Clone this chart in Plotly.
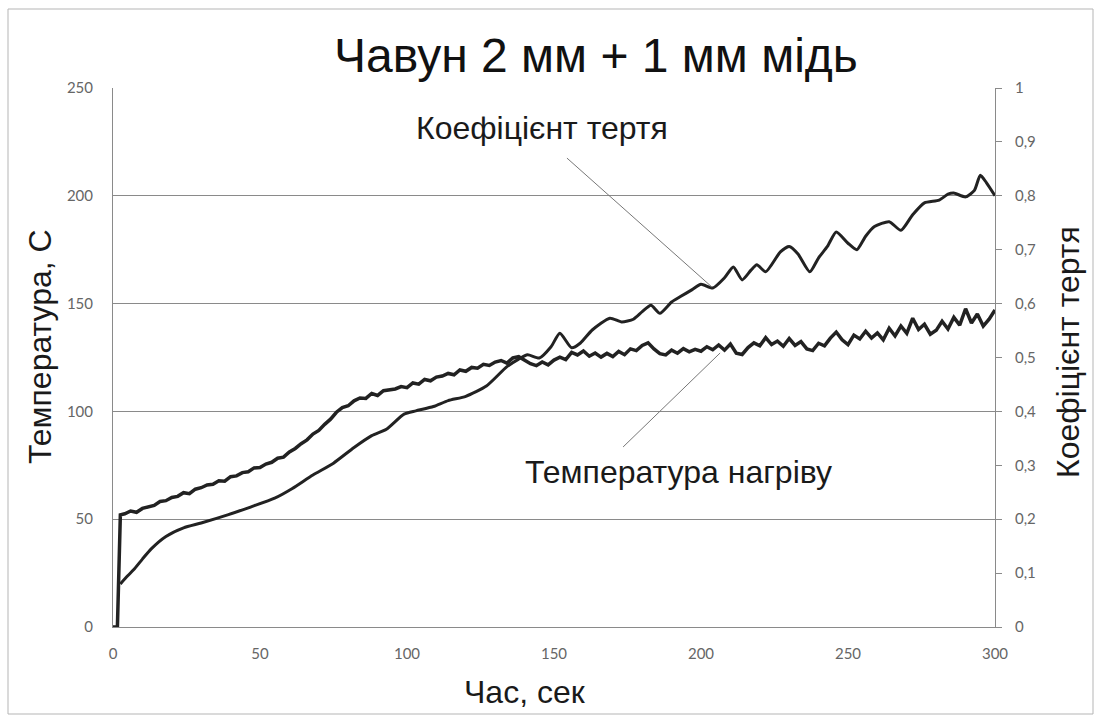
import plotly.graph_objects as go

# Heating temperature, °C (left axis), sampled every 2 s after the start-up jump
temp_time = [0, 1.5, 2.5] + list(range(4, 301, 2))
temperature = [
    0, 0, 52.0,
    52.5, 53.8, 53.2, 55.0, 55.9, 56.4, 58.2, 58.6, 60.1, 60.6,
    62.3, 61.8, 63.9, 64.6, 65.9, 66.2, 67.8, 67.6, 69.7, 70.1,
    71.6, 72.0, 73.8, 74.0, 75.6, 76.4, 78.3, 78.8, 81.2, 82.8,
    85.0, 86.8, 89.5, 91.2, 94.0, 96.4, 99.6, 101.8, 102.6, 104.9,
    106.2, 106.0, 108.3, 107.4, 109.6, 109.8, 110.4, 111.5, 111.0, 113.2,
    112.6, 114.8, 114.2, 115.9, 116.4, 117.6, 117.0, 119.2, 118.6, 120.4,
    120.0, 121.8, 121.3, 122.9, 123.6, 122.4, 124.8, 125.4, 123.8, 122.1,
    121.2, 122.9, 121.6, 123.8, 125.2, 124.0, 127.4, 126.2, 128.0, 125.6,
    127.1, 125.2, 126.9, 125.4, 127.8, 126.3, 129.0, 128.2, 130.6, 131.8,
    129.0, 126.8, 126.2, 128.4, 127.0, 129.1, 127.6, 128.8, 127.9, 130.0,
    128.6, 130.8, 128.4, 131.2, 127.0, 126.4, 129.6, 131.8, 130.4, 134.2,
    131.0, 132.6, 130.2, 133.8, 130.6, 132.4, 129.0, 128.2, 131.6, 130.4,
    134.0, 136.8, 133.2, 131.0, 135.4, 133.6, 137.2, 134.0, 136.4, 133.2,
    138.6, 135.0, 139.6, 136.2, 143.2, 138.0, 140.4, 135.8, 137.6, 141.8,
    138.2, 143.6, 140.0, 147.6, 141.0, 145.2, 139.6, 142.8, 147.0,
]

# Friction coefficient (right axis)
friction_time = [
    2.5, 5, 7, 10, 13, 18, 24, 30, 39, 47, 55, 61, 68, 75, 82, 88, 93, 99,
    103, 109, 114, 120, 127, 134, 138, 141, 145, 149, 152, 156, 159, 163,
    169, 173, 177, 180, 183, 186, 190, 193, 197, 200, 204, 208, 211, 214,
    217, 219, 222, 227, 230, 233, 237, 240, 243, 246, 250, 253, 256, 259,
    264, 268, 272, 276, 281, 284, 286, 290, 293, 295, 297, 300,
]
friction = [
    0.080, 0.095, 0.106, 0.126, 0.145, 0.168, 0.184, 0.193, 0.208, 0.223,
    0.239, 0.257, 0.282, 0.304, 0.333, 0.355, 0.367, 0.395, 0.401, 0.409,
    0.420, 0.428, 0.447, 0.483, 0.497, 0.505, 0.499, 0.520, 0.545, 0.518,
    0.527, 0.551, 0.573, 0.566, 0.571, 0.585, 0.597, 0.582, 0.603, 0.613,
    0.626, 0.636, 0.629, 0.648, 0.668, 0.644, 0.662, 0.672, 0.659, 0.696,
    0.706, 0.692, 0.659, 0.685, 0.706, 0.733, 0.712, 0.700, 0.725, 0.743,
    0.752, 0.736, 0.765, 0.787, 0.792, 0.803, 0.805, 0.798, 0.810, 0.838,
    0.825, 0.800,
]

x_ticks = [0, 50, 100, 150, 200, 250, 300]
temp_ticks = [0, 50, 100, 150, 200, 250]
fric_ticks = [0, 0.1, 0.2, 0.3, 0.4, 0.5, 0.6, 0.7, 0.8, 0.9, 1]
fric_tick_text = ["0", "0,1", "0,2", "0,3", "0,4", "0,5", "0,6", "0,7", "0,8", "0,9", "1"]

LINE = "#222222"
GRID = "#8a8a8a"
TICK_FONT = dict(family="Lato, Open Sans, sans-serif", size=15, color="#666666")
TEXT_FONT = "Liberation Sans, Arial, sans-serif"

fig = go.Figure()
fig.add_trace(go.Scatter(
    x=temp_time, y=temperature, mode="lines", name="Температура нагріву",
    line=dict(color=LINE, width=3.5), yaxis="y",
))
fig.add_trace(go.Scatter(
    x=friction_time, y=friction, mode="lines", name="Коефіцієнт тертя",
    line=dict(color=LINE, width=3, shape="spline", smoothing=0.6), yaxis="y2",
))

# leader lines from the curve labels to the curves
leader = dict(color="#777777", width=1)
fig.add_shape(type="line", xref="x", yref="y", x0=154.4, y0=217.5, x1=203.7, y1=157.7, line=leader)
fig.add_shape(type="line", xref="x", yref="y", x0=173.5, y0=83.5, x1=206.5, y1=127.1, line=leader)

# outer chart frame
fig.add_shape(type="rect", xref="paper", yref="paper",
              x0=(8 - 113) / 882, x1=(1093 - 113) / 882,
              y0=(627 - 714) / 539, y1=(627 - 9) / 539,
              line=dict(color="#b5b5b5", width=1), layer="below")

fig.add_annotation(x=145.9, y=231.4, xref="x", yref="y", text="Коефіцієнт тертя",
                   showarrow=False, xanchor="center", yanchor="middle",
                   font=dict(family=TEXT_FONT, size=32, color="#1a1a1a"))
fig.add_annotation(x=192.2, y=71.9, xref="x", yref="y", text="Температура нагріву",
                   showarrow=False, xanchor="center", yanchor="middle",
                   font=dict(family=TEXT_FONT, size=32, color="#1a1a1a"))

# axis titles
fig.add_annotation(x=(40 - 113) / 882, y=(627 - 347) / 539, xref="paper", yref="paper",
                   text="Температура, С", textangle=-90, showarrow=False,
                   xanchor="center", yanchor="middle",
                   font=dict(family=TEXT_FONT, size=32, color="#1a1a1a"))
fig.add_annotation(x=(1068 - 113) / 882, y=(627 - 352) / 539, xref="paper", yref="paper",
                   text="Коефіцієнт тертя", textangle=-90, showarrow=False,
                   xanchor="center", yanchor="middle",
                   font=dict(family=TEXT_FONT, size=32, color="#1a1a1a"))
fig.add_annotation(x=(525 - 113) / 882, y=(627 - 692) / 539, xref="paper", yref="paper",
                   text="Час, сек", showarrow=False,
                   xanchor="center", yanchor="middle",
                   font=dict(family=TEXT_FONT, size=32, color="#1a1a1a"))

fig.update_layout(
    width=1098, height=717,
    margin=dict(l=113, r=103, t=88, b=90),
    paper_bgcolor="white", plot_bgcolor="white",
    showlegend=False,
    title=dict(text="Чавун 2 мм + 1 мм мідь", x=596 / 1098, xanchor="center",
               y=1 - 55 / 717, yanchor="middle",
               font=dict(family=TEXT_FONT, size=48, color="#111111")),
    xaxis=dict(range=[0, 300], tickvals=x_ticks, showgrid=False, zeroline=False,
               showline=True, linecolor=GRID, linewidth=1, ticks="",
               ticklabelstandoff=13, tickfont=TICK_FONT),
    yaxis=dict(range=[0, 250], tickvals=temp_ticks, showgrid=True, gridcolor=GRID,
               gridwidth=1, zeroline=False, showline=True, linecolor=GRID, linewidth=1,
               ticks="", ticklabelstandoff=16, tickfont=TICK_FONT),
    yaxis2=dict(range=[0, 1], tickvals=fric_ticks, ticktext=fric_tick_text,
                overlaying="y", side="right", showgrid=False, zeroline=False,
                showline=True, linecolor=GRID, linewidth=1, ticks="outside",
                ticklen=6, tickcolor=GRID, ticklabelstandoff=10, tickfont=TICK_FONT),
)

fig.write_html("out.html")
